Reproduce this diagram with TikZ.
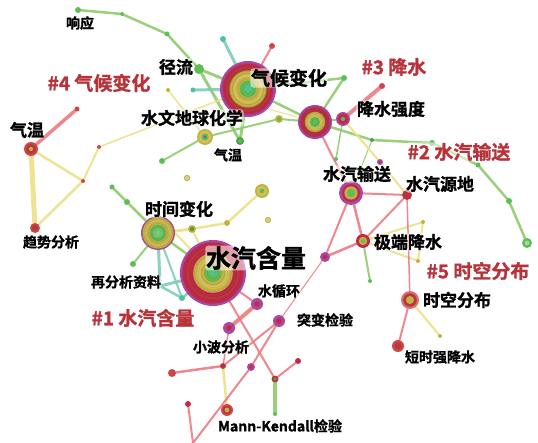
\documentclass[tikz,border=0pt]{standalone}
\usepackage{fontspec}
\newfontfamily\cjk{Noto Sans CJK SC Bold}[FakeBold=1.2]
\usetikzlibrary{calc}
\pgfdeclarelayer{bg}
\pgfsetlayers{bg,main}
\definecolor{cpurple}{HTML}{A8489E}
\definecolor{ccrim}{HTML}{C42848}
\definecolor{cdred}{HTML}{B23A3A}
\definecolor{cred}{HTML}{D0454A}
\definecolor{colive}{HTML}{C4B045}
\definecolor{cyel}{HTML}{D3C25C}
\definecolor{cgreen}{HTML}{5CBE55}
\definecolor{cdgreen}{HTML}{4E9E48}
\definecolor{cteal}{HTML}{4DBFAA}
\definecolor{cpink}{HTML}{E06C78}
\definecolor{clusterred}{HTML}{B8323A}
\definecolor{egreen}{HTML}{8FCB6C}
\definecolor{ered}{HTML}{EC7A82}
\definecolor{eyel}{HTML}{ECE18A}
\definecolor{eteal}{HTML}{7CCDB6}
\newcommand\ringn[4]{%
  \node[circle,inner sep=0pt,minimum size={2*#3*1pt}] (#1) at (#2) {};
  \foreach \cc/\ff in {#4} {\fill[\cc] (#1.center) circle[radius={\ff*#3*1pt}];}
}
\newcommand\texture[2]{%
  \foreach \ff in {0.92,0.84,0.72,0.64,0.56,0.44,0.36,0.26,0.18}{\draw[black,opacity=0.12,line width=0.4pt] (#1.center) circle[radius={\ff*#2*1pt}];}
}
\tikzset{
  eg/.style={draw=egreen,opacity=0.9,line cap=round},
  er/.style={draw=ered,opacity=0.9,line cap=round},
  ey/.style={draw=eyel,opacity=0.95,line cap=round},
  et/.style={draw=eteal,opacity=0.9,line cap=round},
  halo/.style={fill=white,fill opacity=0.55,text opacity=1,rounded corners=3pt,inner sep=0.6pt},
  lbl/.style={halo,font=\cjk\fontsize{17}{17}\selectfont,text=black},
  lbls/.style={halo,font=\cjk\fontsize{14}{14}\selectfont,text=black},
  clab/.style={halo,font=\cjk\fontsize{19}{19}\selectfont,text=clusterred},
}
\begin{document}
\begin{tikzpicture}[x=1pt,y=-1pt]
\useasboundingbox (0,0) rectangle (538,443);
% ---------- major nodes ----------
\ringn{qh}{248,89}{28}{cpurple/1,ccrim/0.9,cdred/0.8,colive/0.66,cyel/0.52,colive/0.42,cgreen/0.3,cteal/0.12}
\texture{qh}{28}
\ringn{sq}{213,273}{33}{cpurple/1,ccrim/0.92,cdred/0.8,ccrim/0.72,colive/0.6,cyel/0.48,colive/0.38,cgreen/0.26,cteal/0.08}
\texture{sq}{33}
\ringn{js}{315,122}{17}{cpurple/1,ccrim/0.86,cdred/0.74,colive/0.6,cyel/0.46,cgreen/0.3}
\texture{js}{17}
\ringn{sj}{158,233}{17}{cpurple/1,colive/0.92,cyel/0.76,colive/0.64,cgreen/0.48,cgreen!80!white/0.3}
\texture{sj}{17}
\ringn{sw}{205,137}{8}{colive/1,cyel/0.75,cgreen/0.45,cpurple/0.2}
\ringn{ol1}{262,191}{7}{colive/1,cyel/0.7,cgreen/0.35}
\ringn{qs}{343,119}{7}{cpurple/1,ccrim/0.75,cgreen/0.3}
\ringn{ss}{351,193}{12}{cpurple/1,ccrim/0.75,colive/0.55,cgreen/0.35}
\ringn{sy}{407,195}{5}{cdred/1,ccrim/0.6}
\ringn{jd}{363,241}{7}{ccrim/1,colive/0.6,cgreen/0.3}
\ringn{sk}{410,300}{9}{cpink/1,cdred/0.75,colive/0.45}
\ringn{ds}{398,346}{6}{cred/1,cdred/0.6}
\ringn{tb}{279,321}{6}{cpurple/1,ccrim/0.5}
\ringn{pp}{325,257}{5}{cpurple/1,ccrim/0.45}
\ringn{xh}{257,304}{6}{cpurple/1,ccrim/0.45}
\ringn{xb}{229,328}{6}{cpurple/1,ccrim/0.45}
\ringn{pp2}{251,367}{4}{cpurple/1,ccrim/0.45}
\ringn{mk}{227,410}{6}{cred/1,cdred/0.7,colive/0.4}
\ringn{qw}{31,149}{7}{cred/1,cdred/0.7,colive/0.3}
\ringn{qwb}{240,141}{4}{cdgreen/1,cgreen/0.5}
\ringn{jl}{199,69}{5}{cgreen/1}
\ringn{qx}{35,228}{5}{cred/1,cdred/0.6}
% ---------- small nodes ----------
\ringn{d1}{77,109}{2.5}{cred/1}
\ringn{d2}{83,181}{2}{cred/1}
\ringn{d3}{99,147}{2}{cred/1}
\ringn{d5}{168,90}{2}{colive/1}
\ringn{xy}{78,10}{3}{cgreen/1}
\ringn{d6}{122,14}{2}{cgreen/1}
\ringn{d7}{167,34}{2.5}{cgreen/1}
\ringn{d8}{223,39}{3}{cteal/1}
\ringn{d9}{193,90}{2.5}{cteal/1}
\ringn{d10}{272,46}{3}{cred/1}
\ringn{d11}{344,78}{3}{cgreen/1}
\ringn{d12}{279,119}{4}{colive/1,cgreen/0.5}
\ringn{d13}{162,161}{3}{cgreen/1}
\ringn{d14}{382,86}{3}{cred/1}
\ringn{d15}{336,159}{2}{cgreen/1}
\ringn{d16}{380,162}{3}{cpurple/1,ccrim/0.4}
\ringn{d17}{372,140}{2}{cdgreen/1}
\ringn{d18}{432,143}{3}{cgreen/1}
\ringn{d19}{478,165}{2.5}{cgreen/1}
\ringn{d20}{509,201}{3}{cgreen/1}
\ringn{d21}{527,243}{5}{cgreen/1,cgreen!60!white/0.5}
\ringn{d22}{423,222}{2}{colive/1}
\ringn{d23}{418,261}{2}{colive/1}
\ringn{d24}{370,281}{2}{cgreen/1}
\ringn{d25}{440,336}{2}{colive/1}
\ringn{d26}{268,220}{3.2}{colive/1,white/0.55,colive/0.35}
\ringn{d27}{187,178}{3.2}{colive/1,white/0.55,colive/0.35}
\ringn{d28}{192,229}{4}{colive/1,cdgreen/0.55}
\ringn{d29}{227,223}{3}{colive/1}
\ringn{d30}{127,202}{3}{cgreen/1}
\ringn{d31}{112,187}{2.5}{cgreen/1}
\ringn{d32}{133,264}{3}{cgreen/1}
\ringn{d33}{182,298}{3}{cteal/1}
\coordinate (d34) at (160,286);
\ringn{d35}{223,366}{3}{cdred/1,ccrim/0.5}
\ringn{d36}{172,373}{4}{cred/1}
\ringn{d37}{188,404}{3}{ccrim/1}
\coordinate (d38) at (193,443);
\ringn{d39}{275,379}{3.5}{cdred/1,cdgreen/0.5}
\ringn{d40}{298,361}{3}{ccrim/1}
\ringn{d41}{275,414}{2}{cgreen/1}
% ---------- connectors ----------
\begin{pgfonlayer}{bg}
% green
\draw[eg,line width=2.5pt] (xy) -- (d6) -- (d7) -- (jl);
\draw[eg,line width=3pt] (jl) -- (qwb);
\draw[eg,line width=3pt] (jl) -- (qh);
\draw[eg,line width=3pt] (qh) -- (qwb);
\draw[eg,line width=2pt] (d13) -- (sw) -- (d12) -- (js);
\draw[eg,line width=2.5pt] (qh) -- (d11) -- (js);
\draw[eg,line width=2.5pt] (qh) -- (js);
\draw[eg,line width=2pt] (js) -- (qs);
\draw[eg,line width=1.5pt] (qs) -- (d15);
\draw[eg,line width=2.5pt] (js) -- (d17) -- (d18) -- (d19) -- (d20) -- (d21);
\draw[eg,line width=1pt] (d17) -- (ss);
\draw[eg,line width=2.5pt] (sj) -- (d30) -- (d31);
\draw[eg,line width=2pt] (sj) -- (d32);
\draw[eg,line width=2.5pt] (sj) -- (sq);
\draw[eg,line width=4pt] (d39) -- (d41);
\draw[eg,line width=2pt] (jd) -- (d24);
% teal
\draw[et,line width=3pt] (qh) -- (d8);
\draw[et,line width=3pt] (qh) -- (d9);
\draw[et,line width=3pt] (sj) -- (d34) -- (sq);
\draw[et,line width=2.5pt] (d34) -- (d33) -- (sq);
\draw[et,line width=2pt] (sj) -- (d33);
% yellow
\draw[ey,line width=5pt] (qw) -- (qx);
\draw[ey,line width=2.5pt] (qw) -- (d2) -- (qx);
\draw[ey,line width=2pt] (d2) -- (d3);
\draw[ey,line width=1.5pt] (d3) -- (qh);
\draw[ey,line width=1.5pt] (d5) -- (sw);
\draw[ey,line width=1pt] (qh.south east) -- (js);
\draw[ey,line width=2pt] (qs) -- (d16) -- (sy);
\draw[ey,line width=2pt] (jd) -- (d22) -- (d23) -- (jd);
\draw[ey,line width=2pt] (sk) -- (d25);
\draw[ey,line width=3pt] (sj) -- (d28);
\draw[ey,line width=2.5pt] (d28) -- (d29) -- (ol1);
\draw[ey,line width=2pt] (d28) -- (sq);
\draw[ey,line width=2pt] (sj.east) -- (sq);
\draw[ey,line width=2.5pt] (d35) -- (mk);
% red
\draw[er,line width=3.5pt] (qw) -- (d1);
\draw[er,line width=2pt] (qh) -- (d10);
\draw[er,line width=4pt] (qs) -- (d14);
\draw[er,line width=2pt] (js) -- (ss);
\draw[er,line width=2pt] (ss) -- (sy);
\draw[er,line width=2.5pt] (ss) -- (jd);
\draw[er,line width=2pt] (ss) -- (pp);
\draw[er,line width=2pt] (sy) -- (jd);
\draw[er,line width=1.5pt] (sy) -- (sk);
\draw[er,line width=2pt] (sk) -- (ds);
\draw[er,line width=2.5pt] (jd) -- (pp);
\draw[er,line width=1pt] (pp) -- (tb);
\draw[er,line width=2pt] (tb) -- (d35);
\draw[er,line width=2pt] (tb) -- (pp2);
\draw[er,line width=2.5pt] (d36) -- (d35);
\draw[er,line width=2pt] (pp2) -- (d38);
\draw[er,line width=2pt] (d37) -- (d38);
\draw[er,line width=4pt] (xb) -- (xh);
\draw[er,line width=2pt] (sq) -- (xh);
\draw[er,line width=2pt] (sq) -- (d39);
\draw[er,line width=2pt] (d39) -- (d40);
\draw[er,line width=1.5pt] (xb) -- (d35);
\end{pgfonlayer}
% ---------- labels ----------
\node[lbls] (l1) at (80,23) {响应};
\node[lbl] (l2) at (176,67) {径流};
\node[clab] (c4) at (99,83) {\#4 气候变化};
\node[lbl] (l3) at (192,118) {水文地球化学};
\node[lbl] (l4) at (27,130) {气温};
\node[lbls] (l5) at (228,155) {气温};
\node[halo,font=\cjk\fontsize{19}{19}\selectfont] (l6) at (289,78) {气候变化};
\node[clab] (c3) at (394,67) {\#3 降水};
\node[lbl] (l7) at (391,109) {降水强度};
\node[clab] (c2) at (459,152) {\#2 水汽输送};
\node[lbl] (l8) at (357,174) {水汽输送};
\node[lbl] (l9) at (440,184) {水汽源地};
\node[lbl] (l10) at (179,209) {时间变化};
\node[lbls] (l11) at (51,242) {趋势分析};
\node[halo,font=\cjk\fontsize{25}{25}\selectfont] (l12) at (256,258) {水汽含量};
\node[lbl] (l13) at (408,242) {极端降水};
\node[clab] (c5) at (478,271) {\#5 时空分布};
\node[lbls] (l14) at (126,282) {再分析资料};
\node[lbls] (l15) at (279,291) {水循环};
\node[clab] (c1) at (143,318) {\#1 水汽含量};
\node[lbl] (l16) at (457,300) {时空分布};
\node[lbls] (l17) at (325,320) {突变检验};
\node[lbls] (l18) at (221,347) {小波分析};
\node[lbls] (l19) at (440,357) {短时强降水};
\node[lbls] (l20) at (280,426) {Mann-Kendall检验};
\end{tikzpicture}
\end{document}
